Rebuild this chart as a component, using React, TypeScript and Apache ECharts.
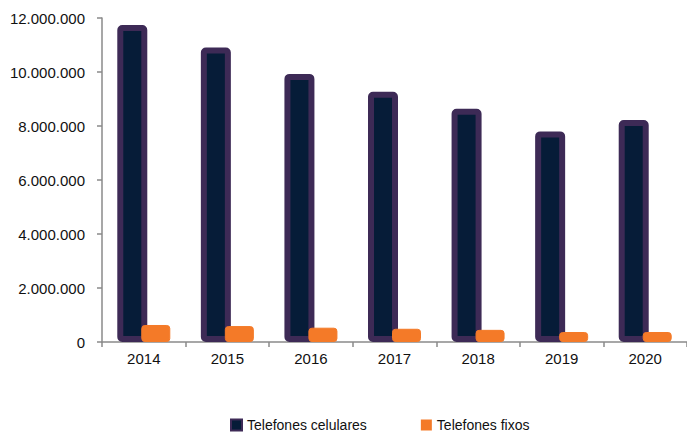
import React, { useEffect, useRef } from "react";
import * as echarts from "echarts";

const categories = ["2014", "2015", "2016", "2017", "2018", "2019", "2020"];
const celulares = [11740000, 10910000, 9930000, 9270000, 8640000, 7800000, 8220000];
const fixos = [630000, 590000, 530000, 490000, 450000, 370000, 370000];
const yTicks = { min: 0, max: 12000000, interval: 2000000 };

const fmt = (v: number) => String(Math.round(v)).replace(/\B(?=(\d{3})+(?!\d))/g, ".");

const NAVY = "#061c38";
const PURPLE = "#3d2a56";
const ORANGE = "#f47a28";
const AXIS = "#8a8a8a";
const FONT = "'Liberation Sans', Arial, sans-serif";

export default function App() {
  const ref = useRef<HTMLDivElement>(null);
  useEffect(() => {
    if (!ref.current) return;
    const chart = echarts.init(ref.current, null, { renderer: "svg" });
    chart.setOption({
      animation: false,
      textStyle: { fontFamily: FONT },
      grid: { left: 102, right: 0, top: 18, bottom: 91, containLabel: false },
      legend: {
        left: 225,
        top: 413,
        itemWidth: 11,
        itemHeight: 11,
        itemGap: 54,
        textStyle: { fontFamily: FONT, fontSize: 14, color: "#111" },
        data: [
          {
            name: "Telefones celulares",
            icon: "rect",
            itemStyle: { color: NAVY, borderColor: PURPLE, borderWidth: 2 },
          },
          {
            name: "Telefones fixos",
            icon: "rect",
            itemStyle: { color: ORANGE, borderWidth: 0 },
          },
        ],
      },
      xAxis: {
        type: "category",
        data: categories,
        axisLine: { lineStyle: { color: AXIS, width: 1.5 } },
        axisTick: { show: true, length: 5, lineStyle: { color: AXIS, width: 1.5 } },
        axisLabel: { fontFamily: FONT, fontSize: 15, color: "#111", margin: 9 },
      },
      yAxis: {
        type: "value",
        min: yTicks.min,
        max: yTicks.max,
        interval: yTicks.interval,
        splitLine: { show: false },
        axisLine: { show: true, lineStyle: { color: AXIS, width: 1.5 } },
        axisTick: { show: true, length: 5, lineStyle: { color: AXIS, width: 1.5 } },
        axisLabel: {
          fontFamily: FONT,
          fontSize: 15,
          color: "#111",
          margin: 17,
          formatter: (v: number) => fmt(v),
        },
      },
      series: [
        {
          name: "Telefones celulares",
          type: "bar",
          data: celulares,
          barWidth: 30,
          itemStyle: {
            color: NAVY,
            borderColor: PURPLE,
            borderWidth: 6,
            borderRadius: 2,
          },
        },
        {
          name: "Telefones fixos",
          type: "bar",
          data: fixos,
          barWidth: 29,
          barGap: "-20%",
          itemStyle: {
            color: ORANGE,
            borderColor: ORANGE,
            borderWidth: 1,
            borderRadius: 3,
          },
        },
      ],
    });
    return () => chart.dispose();
  }, []);
  return <div ref={ref} style={{ width: 687, height: 433, position: "absolute", left: 0, top: 0 }} />;
}
